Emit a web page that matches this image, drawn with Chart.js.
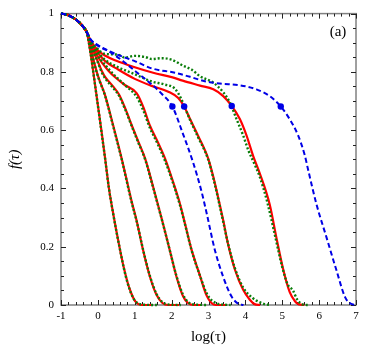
<!DOCTYPE html>
<html><head><meta charset="utf-8">
<script src="https://cdn.jsdelivr.net/npm/chart.js@4"></script>
<style>html,body{margin:0;padding:0;background:#fff}canvas{display:block}</style>
</head><body>
<canvas id="c" width="365" height="351"></canvas>
<script>
const xTicks = [-1,0,1,2,3,4,5,6,7];
const yTicks = [0,0.2,0.4,0.6,0.8,1];
const yTickLabels = ['0','0.2','0.4','0.6','0.8','1'];
const xTitle = 'log(\u03C4)';
const yTitle = 'f(\u03C4)';
const panelLabel = '(a)';

// shared early-time part of every curve
const start = [[-1,1],[-0.9,0.998],[-0.8,0.994],[-0.7,0.988],[-0.6,0.98],[-0.5,0.969],[-0.4,0.955],[-0.3,0.936]];

const red1 = [[-0.2,0.865],[-0.1,0.778],[0,0.686],[0.1,0.595],[0.2,0.5],[0.3,0.4],[0.4,0.325],[0.5,0.255],[0.6,0.19],[0.7,0.13],[0.8,0.08],[0.9,0.042],[1.0,0.015],[1.1,0.003],[1.2,0],[1.45,0]];
const red2 = [[-0.2,0.885],[-0.1,0.832],[0,0.787],[0.19,0.722],[0.42,0.614],[0.645,0.503],[0.915,0.356],[1.05,0.29],[1.23,0.186],[1.41,0.098],[1.59,0.035],[1.75,0.007],[1.9,0],[2.2,0]];
const red3 = [[-0.2,0.895],[0,0.835],[0.1,0.805],[0.2,0.782],[0.4,0.752],[0.57,0.723],[0.75,0.672],[0.92,0.616],[1.1,0.56],[1.28,0.503],[1.5,0.405],[1.73,0.297],[1.95,0.188],[2.13,0.098],[2.31,0.03],[2.45,0.006],[2.6,0],[2.8,0]];
const red4 = [[-0.2,0.902],[0,0.852],[0.28,0.805],[0.5,0.778],[0.73,0.755],[1.05,0.727],[1.23,0.68],[1.41,0.616],[1.62,0.56],[1.82,0.503],[2.02,0.43],[2.22,0.35],[2.38,0.27],[2.54,0.19],[2.77,0.1],[2.95,0.032],[3.08,0.007],[3.2,0],[3.5,0]];
const red5 = [[-0.2,0.906],[0,0.865],[0.19,0.838],[0.55,0.808],[1.0,0.776],[1.46,0.752],[1.91,0.732],[2.18,0.71],[2.34,0.681],[2.5,0.638],[2.72,0.58],[2.99,0.503],[3.13,0.44],[3.26,0.37],[3.4,0.29],[3.53,0.209],[3.72,0.12],[3.94,0.052],[4.12,0.018],[4.25,0.003],[4.4,0]];
const red6 = [[-0.2,0.908],[0,0.874],[0.19,0.856],[0.5,0.838],[1.0,0.816],[1.5,0.797],[2.0,0.782],[2.3,0.77],[2.77,0.753],[3.13,0.74],[3.4,0.717],[3.63,0.683],[3.85,0.638],[4.03,0.582],[4.21,0.512],[4.39,0.452],[4.66,0.345],[4.84,0.232],[5.03,0.12],[5.2,0.045],[5.35,0.012],[5.45,0.002],[5.6,0]];

const green1 = [[-0.2,0.865],[-0.1,0.776],[0,0.684],[0.1,0.592],[0.2,0.498],[0.3,0.4],[0.4,0.323],[0.5,0.254],[0.6,0.19],[0.7,0.128],[0.8,0.078],[0.9,0.04],[1.0,0.016],[1.1,0.005],[1.25,0.001],[1.6,0]];
const green2 = [[-0.2,0.885],[-0.1,0.83],[0,0.785],[0.19,0.72],[0.42,0.611],[0.645,0.5],[0.915,0.353],[1.05,0.288],[1.23,0.188],[1.41,0.1],[1.59,0.038],[1.75,0.01],[1.9,0.002],[2.25,0]];
const green3 = [[-0.2,0.895],[0,0.832],[0.1,0.8],[0.2,0.777],[0.4,0.747],[0.57,0.719],[0.75,0.668],[0.92,0.613],[1.1,0.556],[1.28,0.5],[1.5,0.402],[1.73,0.295],[1.95,0.188],[2.13,0.1],[2.31,0.035],[2.45,0.01],[2.6,0.002],[2.95,0]];
const green4 = [[-0.2,0.902],[0,0.855],[0.19,0.825],[0.4,0.795],[0.73,0.755],[1.05,0.715],[1.23,0.668],[1.41,0.608],[1.62,0.553],[1.82,0.495],[2.02,0.425],[2.22,0.345],[2.38,0.268],[2.54,0.188],[2.77,0.1],[2.95,0.04],[3.1,0.015],[3.3,0.003],[3.6,0]];
const green5 = [[-0.2,0.906],[0,0.868],[0.19,0.842],[0.55,0.816],[1.0,0.792],[1.46,0.767],[1.8,0.757],[2.09,0.742],[2.25,0.71],[2.35,0.68],[2.5,0.635],[2.72,0.575],[2.99,0.5],[3.13,0.435],[3.26,0.365],[3.4,0.285],[3.53,0.21],[3.72,0.125],[3.94,0.06],[4.1,0.035],[4.3,0.015],[4.5,0.004],[4.66,0]];
const green6 = [[-0.2,0.908],[0,0.878],[0.19,0.862],[0.55,0.859],[0.73,0.849],[1.0,0.855],[1.28,0.851],[1.46,0.844],[1.73,0.847],[2.0,0.842],[2.3,0.822],[2.54,0.808],[2.77,0.785],[3.13,0.763],[3.4,0.73],[3.58,0.695],[3.76,0.638],[3.94,0.582],[4.08,0.531],[4.26,0.48],[4.39,0.44],[4.6,0.35],[4.8,0.24],[5.0,0.13],[5.15,0.07],[5.29,0.05],[5.4,0.02],[5.55,0.002],[5.7,0]];

const blue1 = [[-0.2,0.912],[0,0.89],[0.33,0.868],[0.7,0.835],[1.0,0.804],[1.46,0.757],[1.73,0.725],[2.02,0.681],[2.3,0.59],[2.58,0.49],[2.8,0.395],[2.95,0.315],[3.17,0.19],[3.4,0.096],[3.63,0.028],[3.8,0.005],[3.95,0]];
const blue2 = [[-0.2,0.912],[0,0.892],[0.33,0.87],[0.78,0.847],[1.0,0.837],[1.46,0.812],[2.09,0.797],[2.5,0.783],[2.9,0.768],[3.31,0.76],[3.85,0.754],[4.3,0.74],[4.66,0.717],[4.96,0.681],[5.2,0.638],[5.43,0.582],[5.61,0.514],[5.7,0.465],[5.93,0.345],[6.2,0.232],[6.47,0.119],[6.7,0.028],[6.85,0.005],[7.0,0]];

const markers = [[2.02,0.681],[2.34,0.681],[3.63,0.683],[4.96,0.681]];

const RED = '#ff0000', GREEN = '#0a7d0a', BLUE = '#0000e6';
const toPts = a => a.map(p => ({x: p[0], y: p[1]}));
const full = a => toPts(start.concat(a));
function curve(arr, color, width, dash, order) {
  return {data: full(arr), borderColor: color, borderWidth: width, borderDash: dash,
    pointRadius: 0, fill: false, cubicInterpolationMode: 'monotone', order: order, clip: 6,
    borderCapStyle: 'butt'};
}
const datasets = [
  {type: 'scatter', data: toPts(markers), pointRadius: 3.2, pointBackgroundColor: BLUE, pointBorderWidth: 0, showLine: false, order: 0, clip: 6},
  curve(blue1, BLUE, 2, [5, 3], 1),
  curve(blue2, BLUE, 2, [5, 3], 1),
  curve(green1, GREEN, 2.4, [2, 2], 2),
  curve(green2, GREEN, 2.4, [2, 2], 2),
  curve(green3, GREEN, 2.4, [2, 2], 2),
  curve(green4, GREEN, 2.4, [2, 2], 2),
  curve(green5, GREEN, 2.4, [2, 2], 2),
  curve(green6, GREEN, 2.4, [2, 2], 2),
  curve(red1, RED, 2.2, [], 3),
  curve(red2, RED, 2.2, [], 3),
  curve(red3, RED, 2.2, [], 3),
  curve(red4, RED, 2.2, [], 3),
  curve(red5, RED, 2.2, [], 3),
  curve(red6, RED, 2.2, [], 3)
];

const framePlugin = {
  id: 'frame',
  beforeDatasetsDraw(chart) {
    const {ctx, chartArea: a, scales: {x, y}} = chart;
    ctx.save();
    ctx.strokeStyle = '#808080';
    ctx.lineWidth = 1.5;
    ctx.strokeRect(a.left, a.top, a.right - a.left, a.bottom - a.top);
    ctx.strokeStyle = '#222';
    ctx.lineWidth = 1;
    const seg = (x1, y1, x2, y2) => { ctx.beginPath(); ctx.moveTo(x1, y1); ctx.lineTo(x2, y2); ctx.stroke(); };
    const x0 = xTicks[0], xN = xTicks[xTicks.length - 1];
    for (let i = 0; i <= (xN - x0) * 5; i++) {
      const v = x0 + i * 0.2;
      const px = Math.round(x.getPixelForValue(v)) + 0.5;
      const L = (i % 5 === 0) ? 5 : 3;
      seg(px, a.bottom, px, a.bottom - L);
      seg(px, a.top, px, a.top + L);
    }
    for (let i = 0; i <= 20; i++) {
      const v = i * 0.05;
      const py = Math.round(y.getPixelForValue(v)) + 0.5;
      const L = (i % 4 === 0) ? 5 : 3;
      seg(a.left, py, a.left + L, py);
      seg(a.right, py, a.right - L, py);
    }
    ctx.restore();
  },
  afterDraw(chart) {
    const {ctx, chartArea: a} = chart;
    ctx.save();
    ctx.fillStyle = '#000';
    ctx.font = '15px "Liberation Serif"';
    ctx.textAlign = 'center';
    ctx.textBaseline = 'middle';
    ctx.fillText(panelLabel, a.right - 18, a.top + 18);
    ctx.restore();
  }
};

new Chart(document.getElementById('c'), {
  type: 'line',
  data: {datasets},
  plugins: [framePlugin],
  options: {
    responsive: false,
    devicePixelRatio: 1,
    animation: false,
    layout: {padding: {top: 10, right: 9, left: 0, bottom: 0}},
    plugins: {legend: {display: false}, tooltip: {enabled: false}},
    scales: {
      x: {
        type: 'linear', position: 'bottom', min: -1, max: 7,
        afterBuildTicks: s => { s.ticks = xTicks.map(v => ({value: v})); },
        afterFit: s => { s.height = 46; },
        ticks: {autoSkip: false, maxRotation: 0, padding: 5, color: '#000', font: {family: 'Liberation Serif', size: 11}},
        grid: {display: false, drawTicks: false},
        border: {display: false},
        title: {display: true, text: xTitle, color: '#000', font: {family: 'Liberation Serif', size: 15}, padding: {top: 0, bottom: 5}}
      },
      y: {
        type: 'linear', position: 'left', min: 0, max: 1,
        afterBuildTicks: s => { s.ticks = yTicks.map(v => ({value: v})); },
        afterFit: s => { s.width = 61; },
        ticks: {autoSkip: false, padding: 7, color: '#000', font: {family: 'Liberation Serif', size: 11},
          callback: (v, i) => yTickLabels[i]},
        grid: {display: false, drawTicks: false},
        border: {display: false},
        title: {display: true, text: yTitle, color: '#000', font: {family: 'Liberation Serif', size: 15, style: 'italic'}, padding: {top: 6, bottom: 0}}
      }
    }
  }
});
</script>
</body></html>
